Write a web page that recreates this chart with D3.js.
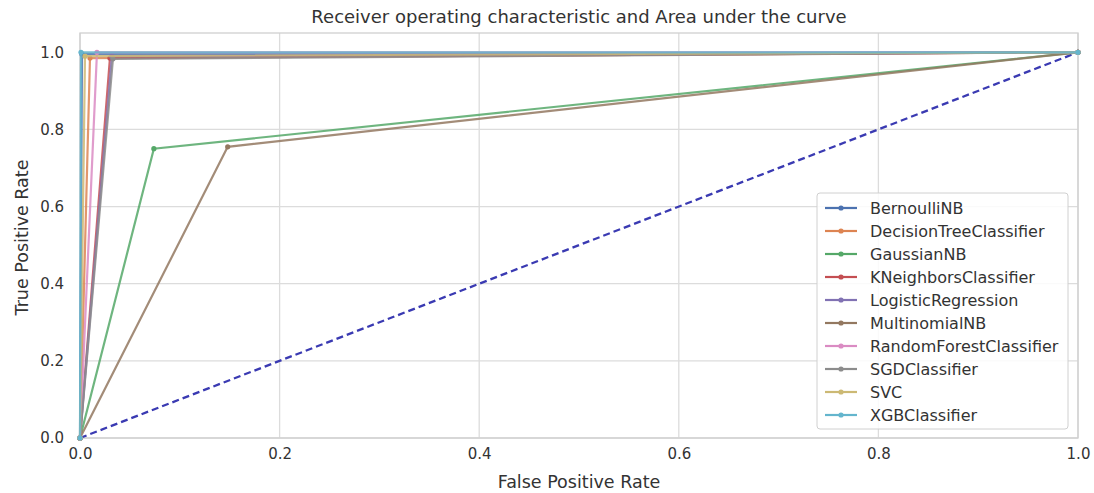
<!DOCTYPE html>
<html>
<head>
<meta charset="utf-8">
<script src="https://cdn.jsdelivr.net/npm/d3@7"></script>
<style>
  body { margin: 0; background: #fff; }
  text { font-family: "DejaVu Sans", sans-serif; fill: #333; }
</style>
</head>
<body>
<div class="canvas"></div>
<script>
// data: each model is (0,0) -> (fpr, tpr) -> (1,1)
const models = ['BernoulliNB', 'DecisionTreeClassifier', 'GaussianNB', 'KNeighborsClassifier',
  'LogisticRegression', 'MultinomialNB', 'RandomForestClassifier', 'SGDClassifier', 'SVC', 'XGBClassifier'];
const fprMid = [0.002, 0.010, 0.074, 0.030, 0.032, 0.148, 0.017, 0.033, 0.005, 0.001];
const tprMid = [0.995, 0.985, 0.750, 0.985, 0.990, 0.755, 1.000, 0.983, 0.990, 1.000];
const colors = ['#4C72B0', '#DD8452', '#55A868', '#C44E52', '#8172B3', '#937860',
  '#DA8BC3', '#8C8C8C', '#CCB974', '#64B5CD'];
const ticks = [0, 0.2, 0.4, 0.6, 0.8, 1.0];

const width = 1094, height = 493;
const margin = { top: 33, right: 16, bottom: 55, left: 80 };
const graphWidth = width - margin.left - margin.right;
const graphHeight = height - margin.top - margin.bottom;

const svg = d3.select('.canvas')
  .append('svg')
  .attr('width', width)
  .attr('height', height);

const graph = svg.append('g')
  .attr('transform', `translate(${margin.left}, ${margin.top})`);

const x = d3.scaleLinear().domain([0, 1]).range([0, graphWidth]);
const y = d3.scaleLinear().domain([0, 1.05]).range([graphHeight, 0]);

// grid
graph.append('g')
  .selectAll('line.vg')
  .data(ticks)
  .enter().append('line')
  .attr('x1', d => x(d)).attr('x2', d => x(d))
  .attr('y1', 0).attr('y2', graphHeight)
  .attr('stroke', '#dcdcdc').attr('stroke-width', 1.3);
graph.append('g')
  .selectAll('line.hg')
  .data(ticks)
  .enter().append('line')
  .attr('y1', d => y(d)).attr('y2', d => y(d))
  .attr('x1', 0).attr('x2', graphWidth)
  .attr('stroke', '#dcdcdc').attr('stroke-width', 1.3);

// axes
const xAxis = d3.axisBottom(x).tickValues(ticks).tickSize(0).tickPadding(10).tickFormat(d3.format('.1f'));
const yAxis = d3.axisLeft(y).tickValues(ticks).tickSize(0).tickPadding(16).tickFormat(d3.format('.1f'));

const xAxisGroup = graph.append('g').attr('transform', `translate(0, ${graphHeight})`).call(xAxis);
const yAxisGroup = graph.append('g').call(yAxis);
[xAxisGroup, yAxisGroup].forEach(g => {
  g.select('.domain').remove();
  g.selectAll('text').attr('font-size', 15).attr('fill', '#4a4a4a').style('font-family', '"DejaVu Sans", sans-serif');
});

// frame
graph.append('rect')
  .attr('width', graphWidth).attr('height', graphHeight)
  .attr('fill', 'none').attr('stroke', '#d0d0d0').attr('stroke-width', 1.3);

// curves
const line = d3.line().x(d => x(d[0])).y(d => y(d[1]));
const curves = models.map((m, i) => ({
  name: m,
  color: colors[i],
  pts: [[0, 0], [fprMid[i], tprMid[i]], [1, 1]]
}));

// chance line
graph.append('path')
  .datum([[0, 0], [1, 1]])
  .attr('d', line)
  .attr('fill', 'none')
  .attr('stroke', '#3a3ab2')
  .attr('stroke-width', 2.3)
  .attr('stroke-dasharray', '7,4');

const cg = graph.selectAll('g.curve')
  .data(curves)
  .enter().append('g')
  .attr('class', 'curve');

cg.append('path')
  .attr('d', d => line(d.pts))
  .attr('fill', 'none')
  .attr('stroke', d => d.color)
  .attr('stroke-width', 2.2)
  .attr('opacity', 0.85);

cg.selectAll('circle')
  .data(d => d.pts.map(p => ({ p, color: d.color })))
  .enter().append('circle')
  .attr('cx', d => x(d.p[0]))
  .attr('cy', d => y(d.p[1]))
  .attr('r', 2.6)
  .attr('fill', d => d.color);

// title and labels
svg.append('text')
  .attr('x', margin.left + graphWidth / 2).attr('y', 23)
  .attr('text-anchor', 'middle').attr('font-size', 18)
  .text('Receiver operating characteristic and Area under the curve');

svg.append('text')
  .attr('x', margin.left + graphWidth / 2).attr('y', 488)
  .attr('text-anchor', 'middle').attr('font-size', 17.5)
  .text('False Positive Rate');

svg.append('text')
  .attr('transform', `translate(28, ${margin.top + graphHeight / 2 + 2}) rotate(-90)`)
  .attr('text-anchor', 'middle').attr('font-size', 17.5)
  .text('True Positive Rate');

// legend
const legend = svg.append('g').attr('transform', 'translate(817, 193)');
legend.append('rect')
  .attr('width', 251).attr('height', 236).attr('rx', 3)
  .attr('fill', 'rgba(255,255,255,0.85)').attr('stroke', '#d0d0d0');

const items = legend.selectAll('g.item')
  .data(curves)
  .enter().append('g')
  .attr('transform', (d, i) => `translate(0, ${15 + i * 23})`);

items.append('line')
  .attr('x1', 8).attr('x2', 40)
  .attr('stroke', d => d.color).attr('stroke-width', 2.2);
items.append('circle')
  .attr('cx', 24).attr('r', 2.6).attr('fill', d => d.color);
items.append('text')
  .attr('x', 53).attr('y', 5.5)
  .attr('font-size', 16).attr('fill', '#4a4a4a')
  .text(d => d.name);
</script>
</body>
</html>
